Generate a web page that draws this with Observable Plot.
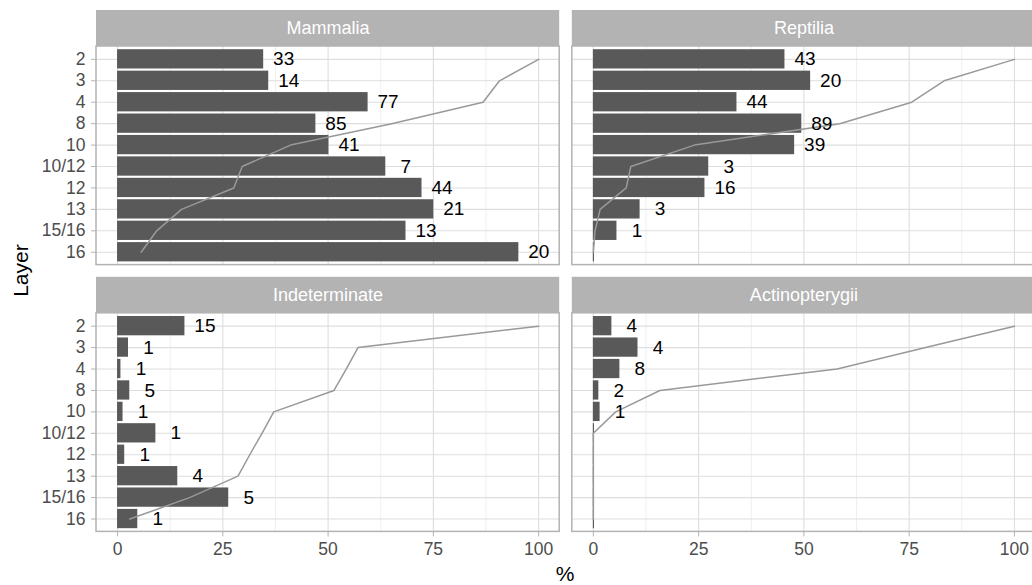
<!DOCTYPE html>
<html>
<head>
<meta charset="utf-8">
<script src="https://cdn.jsdelivr.net/npm/d3@7"></script>
<script src="https://cdn.jsdelivr.net/npm/@observablehq/plot@0.6"></script>
<style>
  body { margin: 0; background: #fff; }
  #chart svg g[aria-label$="axis"] line,
  #chart svg g[aria-label$="axis tick"] path { stroke: #B3B3B3; }
  #chart svg g[aria-label*="axis"] text { font-size: 17.5px !important; }
</style>
</head>
<body>
<div id="chart"></div>
<script>
// Layers (top to bottom) and taxa (facet order)
const layers = ["2", "3", "4", "8", "10", "10/12", "12", "13", "15/16", "16"];
const taxa = ["Mammalia", "Reptilia", "Indeterminate", "Actinopterygii"];

// Bar lengths (%)
const mammaliaPct      = [34.7, 35.9, 59.5, 47.1, 50.2, 63.7, 72.3, 75.1, 68.5, 95.3];
const reptiliaPct      = [45.5, 51.6, 34.1, 49.5, 47.8, 27.4, 26.5, 11.1, 5.6, 0];
const indeterminatePct = [16.0, 2.6, 0.8, 2.9, 1.3, 9.1, 1.7, 14.3, 26.4, 4.8];
const actinoPct        = [4.4, 10.6, 6.3, 1.3, 1.6, 0, 0, 0, 0, 0];

// Count labels
const mammaliaN      = [33, 14, 77, 85, 41, 7, 44, 21, 13, 20];
const reptiliaN      = [43, 20, 44, 89, 39, 3, 16, 3, 1, null];
const indeterminateN = [15, 1, 1, 5, 1, 1, 1, 4, 5, 1];
const actinoN        = [4, 4, 8, 2, 1, null, null, null, null, null];

// Cumulative line (%)
const mammaliaCum      = [100, 90.7, 86.8, 65.1, 41.1, 29.6, 27.6, 15.2, 9.3, 5.6];
const reptiliaCum      = [100, 83.3, 75.6, 58.5, 24.0, 8.9, 7.8, 1.6, 0.4, 0];
const indeterminateCum = [100, 57.1, 54.3, 51.4, 37.1, 34.3, 31.4, 28.6, 17.1, 2.9];
const actinoCum        = [100, 78.9, 57.9, 15.8, 5.3, 0, 0, 0, 0, 0];

const xTicks = [0, 25, 50, 75, 100];
const xMinor = [12.5, 37.5, 62.5, 87.5];

const pcts = [mammaliaPct, reptiliaPct, indeterminatePct, actinoPct];
const counts = [mammaliaN, reptiliaN, indeterminateN, actinoN];
const cums = [mammaliaCum, reptiliaCum, indeterminateCum, actinoCum];

const table = taxa.flatMap((t, k) => layers.map((l, i) => ({
  taxon: t, col: k % 2, row: Math.floor(k / 2), i, layer: l,
  pct: pcts[k][i], n: counts[k][i], cum: cums[k][i]
})));
const stripTable = taxa.map((t, k) => ({taxon: t, col: k % 2, row: Math.floor(k / 2)}));

const S = 1.68; // strip height in row units
const xDomain = [-5, 105];
const yDomain = [-0.6 - S, layers.length - 1 + 0.6];
const panelTop = -0.6, panelBottom = layers.length - 1 + 0.6;
const rows = d3.range(layers.length);

const chart = Plot.plot({
  width: 1032,
  height: 585,
  marginLeft: 96,
  marginRight: 0,
  marginTop: 10,
  marginBottom: 54,
  style: {fontFamily: "'Liberation Sans', Arial, sans-serif", fontSize: "17.5px", color: "#4D4D4D", background: "white", overflow: "hidden"},
  fx: {domain: [0, 1], range: [96, 1035], paddingInner: 0.0265, paddingOuter: 0, round: false, axis: null, label: null},
  fy: {domain: [0, 1], range: [10, 531.4], paddingInner: 0.0457, paddingOuter: 0, round: false, axis: null, label: null},
  x: {domain: xDomain, ticks: xTicks, tickSize: 5, tickPadding: 5.5, label: null},
  y: {domain: yDomain, reverse: true, ticks: rows, tickFormat: i => layers[i], tickSize: 5, tickPadding: 6, label: null},
  marks: [
    // gridlines
    Plot.ruleX(xMinor, {y1: panelTop, y2: panelBottom, stroke: "#E4E4E4", strokeWidth: 0.6}),
    Plot.ruleX(xTicks, {y1: panelTop, y2: panelBottom, stroke: "#DEDEDE", strokeWidth: 1.1}),
    Plot.ruleY(rows, {x1: xDomain[0], x2: xDomain[1], stroke: "#DEDEDE", strokeWidth: 1.1}),
    // strip background
    Plot.rect([stripTable[0]], {x1: xDomain[0], x2: xDomain[1], y1: yDomain[0], y2: panelTop, fill: "#B3B3B3"}),
    // bars
    Plot.rect(table, {fx: "col", fy: "row", x1: 0, x2: "pct", y1: d => d.i - 0.45, y2: d => d.i + 0.45, fill: "#595959"}),
    Plot.ruleX(table, {filter: d => d.pct === 0, fx: "col", fy: "row", x: "pct", y1: d => d.i - 0.45, y2: d => d.i + 0.45, stroke: "#333333", strokeWidth: 0.9}),
    // cumulative line
    Plot.line(table, {fx: "col", fy: "row", x: "cum", y: "i", stroke: "#999999", strokeWidth: 1.5}),
    // count labels
    Plot.text(table, {filter: d => d.n != null, fx: "col", fy: "row", x: "pct", y: "i", text: "n", dx: 20, textAnchor: "middle", fill: "black", fontSize: 19}),
    // panel border
    Plot.rect([stripTable[0]], {x1: xDomain[0], x2: xDomain[1], y1: panelTop, y2: panelBottom, fill: "none", stroke: "#B3B3B3", strokeWidth: 1.5}),
    // strip labels
    Plot.text(stripTable, {fx: "col", fy: "row", x: 50, y: panelTop - S / 2, text: "taxon", fill: "white", fontSize: 18, textAnchor: "middle"}),
    // axis titles
    Plot.text([{col: 0, row: 1, label: "%"}], {fx: "col", fy: "row", text: "label", frameAnchor: "bottom-right", textAnchor: "middle", lineAnchor: "middle", dx: 5.5, dy: 42, fill: "black", fontSize: 21}),
    Plot.text([{col: 0, row: 0, label: "Layer"}], {fx: "col", fy: "row", text: "label", frameAnchor: "bottom-left", textAnchor: "middle", lineAnchor: "middle", rotate: -90, dx: -75, dy: 5.5, fill: "black", fontSize: 21})
  ]
});
document.getElementById("chart").appendChild(chart);
</script>
</body>
</html>
